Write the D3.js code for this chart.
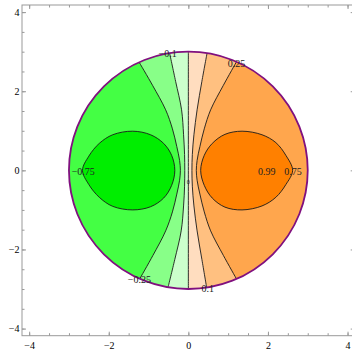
<!DOCTYPE html>
<html>
<head>
<meta charset="utf-8">
<script src="https://cdn.jsdelivr.net/npm/d3@7"></script>
<style>
  html, body { margin: 0; padding: 0; background: #fff; }
  svg text { font-family: "Liberation Serif", "DejaVu Serif", serif; }
</style>
</head>
<body>
<svg id="chart" width="352" height="353"></svg>
<script>
// axis ticks
const majorTicks = [-4, -2, 0, 2, 4]
const minorTicks = [-4, -3.5, -3, -2.5, -2, -1.5, -1, -0.5, 0, 0.5, 1, 1.5, 2, 2.5, 3, 3.5, 4]

// disk radius
const diskRadius = 3

// contour levels
const levels = [-0.75, -0.25, -0.1, 0, 0.1, 0.25, 0.75]

// closed contours (blobs)
const blobMinus075 = [
  [-2.66, 0], [-2.5, 0.36], [-2.24, 0.68], [-1.9, 0.9], [-1.4, 0.99], [-0.95, 0.9],
  [-0.62, 0.68], [-0.42, 0.38], [-0.34, 0], [-0.42, -0.38], [-0.62, -0.7],
  [-0.95, -0.92], [-1.4, -1.0], [-1.9, -0.91], [-2.24, -0.68], [-2.5, -0.36]
]
const blobPlus075 = [
  [0.31, 0], [0.4, 0.38], [0.6, 0.68], [0.92, 0.91], [1.35, 0.99], [1.85, 0.9],
  [2.2, 0.7], [2.45, 0.38], [2.62, 0], [2.45, -0.36], [2.2, -0.68], [1.85, -0.9],
  [1.35, -1.0], [0.92, -0.93], [0.6, -0.7], [0.4, -0.38]
]

// open contours, top boundary to bottom boundary
const lineMinus025 = [
  [-1.24, 2.74], [-0.9, 2.15], [-0.57, 1.53], [-0.4, 1.05], [-0.29, 0.6], [-0.22, 0.25], [-0.2, 0],
  [-0.22, -0.25], [-0.29, -0.6], [-0.4, -1.05], [-0.57, -1.53], [-0.89, -2.15], [-1.22, -2.74]
]
const lineMinus01 = [
  [-0.47, 2.96], [-0.32, 2.25], [-0.17, 1.53], [-0.12, 0.9], [-0.095, 0.4], [-0.09, 0],
  [-0.095, -0.4], [-0.12, -0.9], [-0.18, -1.53], [-0.34, -2.25], [-0.51, -2.955]
]
const lineZero = [[0, 3], [0, 0], [0, -3]]
const linePlus01 = [
  [0.47, 2.96], [0.34, 2.25], [0.22, 1.53], [0.14, 0.9], [0.1, 0.4], [0.09, 0],
  [0.1, -0.4], [0.14, -0.9], [0.22, -1.53], [0.34, -2.25], [0.46, -2.963]
]
const linePlus025 = [
  [1.21, 2.745], [0.88, 2.15], [0.56, 1.53], [0.4, 1.05], [0.29, 0.6], [0.22, 0.25], [0.2, 0],
  [0.22, -0.25], [0.29, -0.6], [0.4, -1.05], [0.56, -1.53], [0.88, -2.15], [1.21, -2.745]
]

// contour labels: text and where it sits on its contour
const labelTexts = ["\u22120.1", "0.25", "\u22120.75", "0.99", "0.75", "\u22120.25", "0.1", "0"]
const labelPoints = [
  [-0.52, 2.95], [1.21, 2.7], [-2.64, -0.02], [1.97, -0.02], [2.63, -0.02],
  [-1.23, -2.77], [0.49, -2.98], [0, -0.29]
]

// band colours, from most negative to most positive
const bandColors = ["#00ee00", "#44ff44", "#88ff88", "#ccffcc", "#ffddbf", "#ffc080", "#ffa64d", "#ff8000"]

const svg = d3.select("#chart")
const frame = { left: 22, top: 5, right: 354.7, bottom: 335.7 }

const x = d3.scaleLinear().domain([-4.18, 4.18]).range([frame.left, frame.right])
const y = d3.scaleLinear().domain([-4.18, 4.18]).range([frame.bottom, frame.top])

// clip everything coloured to the disk
svg.append("defs")
  .append("clipPath")
  .attr("id", "disk")
  .append("ellipse")
  .attr("cx", x(0))
  .attr("cy", y(0))
  .attr("rx", x(diskRadius) - x(0))
  .attr("ry", y(0) - y(diskRadius))

const smooth = d3.line().x((d) => x(d[0])).y((d) => y(d[1])).curve(d3.curveCatmullRom)
const smoothClosed = d3.line().x((d) => x(d[0])).y((d) => y(d[1])).curve(d3.curveCatmullRomClosed)

// region left of an open contour: curve then closing round the far left
const leftOf = (pts) => {
  const first = pts[0]
  const last = pts[pts.length - 1]
  return smooth(pts) +
    `L${x(last[0])},${y(-5)}L${x(-5)},${y(-5)}L${x(-5)},${y(5)}L${x(first[0])},${y(5)}Z`
}

const fills = svg.append("g").attr("clip-path", "url(#disk)")

// base: whole disk in the 0.25..0.75 band colour
fills.append("rect")
  .attr("x", x(-5)).attr("y", y(5))
  .attr("width", x(5) - x(-5)).attr("height", y(-5) - y(5))
  .attr("fill", bandColors[6])

// stack the bands from right to left
const openLines = [linePlus025, linePlus01, lineZero, lineMinus01, lineMinus025]
const openColors = [bandColors[5], bandColors[4], bandColors[3], bandColors[2], bandColors[1]]
fills.selectAll(".band")
  .data(openLines)
  .join("path")
  .attr("class", "band")
  .attr("d", (d) => leftOf(d))
  .attr("fill", (d, i) => openColors[i])

// blobs
fills.append("path").attr("d", smoothClosed(blobMinus075)).attr("fill", bandColors[0])
fills.append("path").attr("d", smoothClosed(blobPlus075)).attr("fill", bandColors[7])

// contour lines
const lines = svg.append("g").attr("clip-path", "url(#disk)")
lines.selectAll(".contour")
  .data(openLines)
  .join("path")
  .attr("class", "contour")
  .attr("d", (d) => smooth(d))
lines.selectAll(".blob")
  .data([blobMinus075, blobPlus075])
  .join("path")
  .attr("class", "blob")
  .attr("d", (d) => smoothClosed(d))
lines.selectAll("path")
  .attr("fill", "none")
  .attr("stroke", "#1a1a1a")
  .attr("stroke-width", 0.9)

// disk boundary
svg.append("ellipse")
  .attr("cx", x(0))
  .attr("cy", y(0))
  .attr("rx", x(diskRadius) - x(0))
  .attr("ry", y(0) - y(diskRadius))
  .attr("fill", "none")
  .attr("stroke", "#80107f")
  .attr("stroke-width", 1.8)

// contour labels
svg.append("g")
  .selectAll("text")
  .data(labelTexts)
  .join("text")
  .attr("x", (d, i) => x(labelPoints[i][0]))
  .attr("y", (d, i) => y(labelPoints[i][1]))
  .attr("dy", "0.35em")
  .attr("text-anchor", "middle")
  .attr("font-size", (d) => (d === "0" ? 6 : 10))
  .attr("fill", "#222")
  .text((d) => d)

// frame with inward ticks
const frameColor = "#999"
svg.append("rect")
  .attr("x", frame.left).attr("y", frame.top)
  .attr("width", frame.right - frame.left).attr("height", frame.bottom - frame.top)
  .attr("fill", "none").attr("stroke", frameColor).attr("stroke-width", 1)

const styleAxis = (g) => {
  g.select(".domain").remove()
  g.selectAll("line").attr("stroke", frameColor)
  g.selectAll("text").attr("font-size", 10).attr("fill", "#000")
    .style("font-family", "'Liberation Serif', serif")
}

// minor ticks on all sides
svg.append("g").attr("transform", `translate(0,${frame.bottom})`)
  .call(d3.axisBottom(x).tickValues(minorTicks).tickSize(-2.5).tickFormat("")).call(styleAxis)
svg.append("g").attr("transform", `translate(0,${frame.top})`)
  .call(d3.axisTop(x).tickValues(minorTicks).tickSize(-2.5).tickFormat("")).call(styleAxis)
svg.append("g").attr("transform", `translate(${frame.left},0)`)
  .call(d3.axisLeft(y).tickValues(minorTicks).tickSize(-2.5).tickFormat("")).call(styleAxis)
svg.append("g").attr("transform", `translate(${frame.right},0)`)
  .call(d3.axisRight(y).tickValues(minorTicks).tickSize(-2.5).tickFormat("")).call(styleAxis)

// major ticks with labels
const fmt = (d) => (d < 0 ? "\u2212" + Math.abs(d) : String(d))
svg.append("g").attr("transform", `translate(0,${frame.bottom})`)
  .call(d3.axisBottom(x).tickValues(majorTicks).tickSize(-4).tickPadding(6).tickFormat(fmt)).call(styleAxis)
svg.append("g").attr("transform", `translate(0,${frame.top})`)
  .call(d3.axisTop(x).tickValues(majorTicks).tickSize(-4).tickFormat("")).call(styleAxis)
svg.append("g").attr("transform", `translate(${frame.left},0)`)
  .call(d3.axisLeft(y).tickValues(majorTicks).tickSize(-4).tickPadding(2.5).tickFormat(fmt)).call(styleAxis)
svg.append("g").attr("transform", `translate(${frame.right},0)`)
  .call(d3.axisRight(y).tickValues(majorTicks).tickSize(-4).tickFormat("")).call(styleAxis)
</script>
</body>
</html>
